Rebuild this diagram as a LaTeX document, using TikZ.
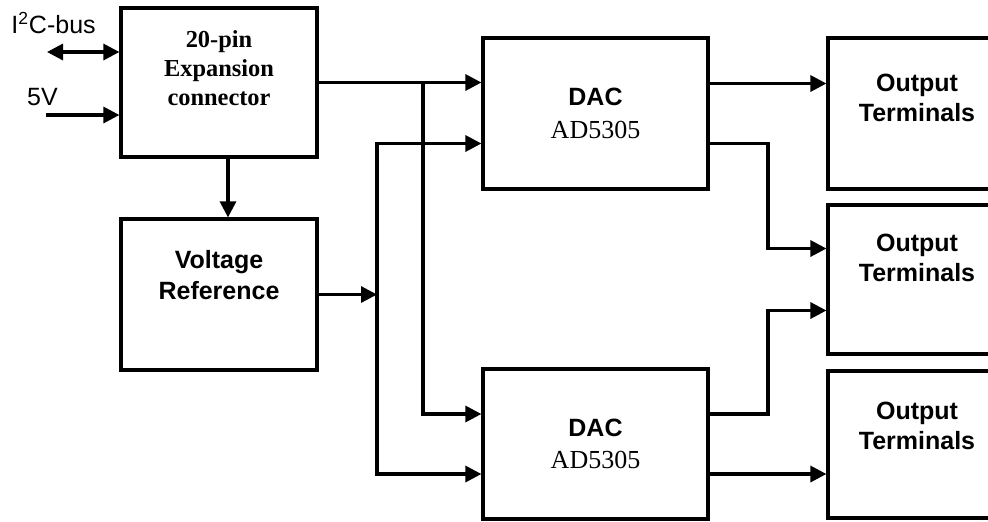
\documentclass[tikz,border=0pt]{standalone}
\usepackage{fontspec}
\setmainfont{Liberation Serif}
\setsansfont{Liberation Sans}
\usetikzlibrary{arrows.meta}

\begin{document}
\begin{tikzpicture}[>={Triangle[length=8pt,width=8pt]},x=0.5pt,y=-0.5pt,line width=1.6pt,
	block/.style={draw,rectangle,inner sep=0pt,minimum height=75.5pt},
	rmtext/.style={font=\rmfamily\bfseries\fontsize{12.2}{14.5}\selectfont,align=center},
	sftext/.style={font=\sffamily\bfseries\fontsize{12.5}{15.5}\selectfont,align=center},
	dactext/.style={font=\rmfamily\fontsize{13}{16.25}\selectfont,align=center},
	lbl/.style={font=\sffamily\fontsize{12.5}{14}\selectfont,anchor=base,inner sep=0pt}]
	\useasboundingbox (0,0) rectangle (988,521);

	%Bloecke
	\node[block,minimum width=98pt,minimum height=74.5pt] (exp) at (219,82.5) {};
	\node[rmtext] (exptxt) at (219,68) {20-pin\\Expansion\\connector};
	\node[block,minimum width=98pt] (vref) at (219,294.5) {};
	\node[sftext] (vreftxt) at (219,275.5) {Voltage\\Reference};
	\node[block,minimum width=112.5pt,dactext] (dacA) at (595.5,113.5) {{\sffamily\bfseries\fontsize{12.5}{16}\selectfont DAC}\\AD5305};
	\node[block,minimum width=112.5pt,minimum height=75pt,dactext] (dacB) at (595.5,444) {{\sffamily\bfseries\fontsize{12.5}{16}\selectfont DAC}\\AD5305};
	\node[block,minimum width=87pt] (outA) at (915,113.5) {};
	\node[block,minimum width=87pt,minimum height=74.5pt] (outB) at (915,279.5) {};
	\node[block,minimum width=87pt,minimum height=73.5pt] (outC) at (915,444.5) {};
	\foreach \o/\y in {outA/98,outB/258,outC/426}
		\node[sftext,font=\sffamily\bfseries\fontsize{12.5}{15}\selectfont] (\o txt) at (917,\y) {Output\\Terminals};

	%Eingaenge
	\node[lbl] (i2c) at (53.5,33) {I\textsuperscript{2}C-bus};
	\node[lbl] (pwr) at (42.5,105) {5V};
	\coordinate (i2cend) at (47,52);
	\coordinate (pwrend) at (46,115);
	\draw[<->] (i2cend) -- (i2cend -| exp.west);
	\draw[->] (pwrend) -- (pwrend -| exp.west);

	%Verbindungen
	\coordinate (busA) at (423,0);
	\coordinate (busB) at (377,294.5);
	\coordinate (busC) at (768,0);
	\draw[->] ([xshift=4.5pt]exp.south) -- ([xshift=4.5pt]vref.north);
	\draw[->] (exp.east) -- (exp.east -| dacA.west);
	\draw[->] (exp.east -| busA) |- ([yshift=15pt]dacB.west);
	\draw[->] (vref.east) -- (busB);
	\draw[<->] ([yshift=-15pt]dacA.west) -| (busB) |- ([yshift=-15pt]dacB.west);

	\draw[->] ([yshift=15pt]dacA.east) -- ([yshift=15pt]dacA.east -| outA.west);
	\draw[->] ([yshift=-15pt]dacA.east) -- ([yshift=-15pt]dacA.east -| busC) |- ([yshift=15.5pt]outB.west);
	\draw[->] ([yshift=15pt]dacB.east) -- ([yshift=15pt]dacB.east -| busC) |- ([yshift=-15.5pt]outB.west);
	\draw[->] ([yshift=-15pt]dacB.east) -- ([yshift=-15pt]dacB.east -| outC.west);
\end{tikzpicture}
\end{document}
